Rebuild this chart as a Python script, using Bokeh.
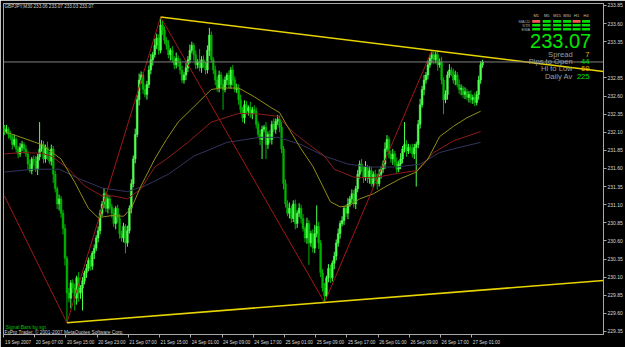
from bokeh.plotting import figure
from bokeh.models import (Range1d, LinearAxis, FixedTicker, Label, Span,
                          ColumnDataSource, NumeralTickFormatter)
from bokeh.embed import file_html
from bokeh.resources import INLINE

# ---------------- data ----------------
symbol_line = "GBPJPY,M30  233.06 233.07 233.03 233.07"

first_open = 232.16
closes = [
    232.11, 232.14, 232.07, 232.03, 231.93, 232.00, 231.87, 231.80, 231.89, 231.93, 231.87,
    231.80, 231.66, 231.57, 231.73, 231.70, 231.59, 231.76,
    231.87, 231.93, 231.73, 231.89, 231.80, 231.70, 231.87,
    231.52, 231.32, 231.11, 231.18, 230.98, 230.77,
    230.36, 229.88, 229.81, 230.02,
    229.95, 229.81, 230.09, 229.88, 229.95, 230.05,
    230.16, 230.22, 230.33, 230.25, 230.43, 230.50, 230.64, 230.74,
    230.98, 231.11, 231.25, 231.05, 231.18, 231.07,
    230.98, 230.84, 231.05, 230.91, 230.70, 230.64, 230.80, 230.57, 230.74,
    231.05, 231.39, 231.73, 232.07,
    232.55, 232.82, 232.89, 232.69,
    232.62, 232.76, 232.96, 233.10,
    233.17, 233.30, 233.40, 233.23, 233.58,
    233.51, 233.37, 233.30,
    233.17, 233.23, 233.10, 233.03, 233.12, 233.07,
    232.96, 232.82, 232.89, 232.99, 233.10,
    233.23, 233.30, 233.17, 233.03,
    233.07, 232.99, 233.10, 233.03, 232.96,
    233.23, 233.44, 233.10,
    232.96, 232.82, 232.71, 232.89, 232.76, 232.69, 232.82,
    232.89, 232.76, 232.96, 232.82, 232.69, 232.71,
    232.55, 232.41, 232.30, 232.48, 232.39,
    232.44, 232.35, 232.41, 232.39,
    232.21, 232.07, 232.00, 232.14,
    232.17, 231.93, 232.07, 232.00, 232.21, 232.14, 232.25,
    232.28, 232.17,
    231.87, 231.39, 231.11, 230.98,
    231.05, 230.91, 231.11, 230.84, 230.98, 231.05, 230.91,
    230.77, 230.64, 230.84, 230.57, 230.70, 230.50,
    230.70, 230.80, 230.57,
    230.16, 229.95, 229.84, 230.09,
    230.22, 230.09, 230.29, 230.39,
    230.57, 230.70, 230.84, 230.88,
    231.05, 230.98, 231.11,
    231.18, 231.25, 231.11, 231.32,
    231.52, 231.66, 231.59, 231.48,
    231.62, 231.46, 231.57, 231.39, 231.52,
    231.48, 231.39, 231.52, 231.59, 231.66,
    231.87, 232.00, 231.80,
    231.73, 231.80, 231.69,
    231.59, 231.66, 231.73,
    231.87, 231.93, 231.84, 231.89,
    231.87, 231.80, 231.89, 231.93,
    232.21, 232.48,
    232.69, 232.82, 232.89,
    233.03, 233.12, 233.17,
    233.10, 233.17, 233.03, 233.07,
    232.82, 232.55, 232.62, 232.89,
    232.96, 232.93, 232.82, 232.89, 232.76,
    232.69, 232.71, 232.62, 232.66, 232.58,
    232.62, 232.55, 232.58, 232.51, 232.62,
    232.82, 233.03, 233.07,
]
# wick lengths above / below the body, in pips
upper_wick_pips = [
    4, 6, 3, 5, 4, 7, 3, 4, 6, 5,
    3, 5, 4, 6, 3, 5, 7, 4, 37, 6,
    5, 4, 8, 3, 6, 4, 5, 3, 6, 4,
    5, 6, 3, 7, 4, 5, 6, 3, 8, 4,
    5, 3, 6, 4, 7, 3, 5, 4, 6, 5,
    4, 8, 3, 6, 5, 4, 7, 3, 5, 6,
    4, 5, 3, 7, 4, 6, 5, 8, 6, 9,
    5, 4, 7, 5, 6, 8, 4, 9, 6, 5,
    11, 6, 5, 4, 7, 3, 6, 5, 8, 4,
    5, 6, 4, 7, 5, 8, 5, 3, 6, 4,
    18, 5, 6, 4, 7, 10, 5, 4, 6, 5,
    6, 4, 8, 5, 3, 6, 4, 7, 5, 6,
    5, 7, 4, 6, 5, 3, 8, 4, 6, 5,
    4, 6, 5, 3, 7, 4, 6, 5, 8, 4,
    6, 5, 7, 4, 6, 5, 8, 4, 5, 6,
    4, 7, 5, 6, 3, 8, 5, 4, 6, 12,
    29, 6, 4, 5, 7, 3, 6, 5, 4, 6,
    5, 7, 4, 6, 3, 5, 8, 4, 6, 5,
    4, 6, 5, 7, 4, 8, 3, 6, 5, 4,
    6, 5, 7, 4, 5, 9, 6, 4, 5, 7,
    4, 6, 5, 8, 4, 31, 6, 5, 4, 7,
    5, 4, 6, 8, 5, 7, 4, 6, 5, 6,
    4, 4, 6, 5, 7, 4, 6, 5, 8, 4,
    5, 6, 4, 7, 5, 3, 6, 4, 5, 6,
    4, 7, 5, 6, 5, 3,
]
lower_wick_pips = [
    5, 3, 6, 4, 7, 3, 5, 6, 4, 5,
    6, 4, 7, 3, 5, 6, 4, 8, 5, 4,
    6, 5, 8, 4, 6, 12, 5, 7, 9, 6,
    8, 10, 41, 6, 14, 7, 17, 9, 12, 8,
    31, 5, 7, 4, 6, 5, 8, 4, 6, 5,
    4, 6, 5, 7, 4, 6, 5, 8, 6, 7,
    5, 6, 14, 5, 4, 7, 5, 6, 4, 8,
    5, 6, 4, 7, 5, 6, 8, 4, 5, 6,
    4, 7, 5, 6, 5, 8, 4, 6, 5, 7,
    6, 4, 5, 7, 6, 5, 4, 8, 6, 5,
    5, 7, 4, 6, 5, 8, 4, 6, 7, 5,
    6, 5, 28, 4, 7, 5, 6, 8, 4, 5,
    7, 5, 6, 8, 4, 6, 5, 7, 4, 6,
    5, 8, 27, 4, 20, 6, 5, 7, 4, 6,
    5, 7, 6, 8, 5, 4, 7, 6, 5, 8,
    6, 5, 7, 4, 6, 8, 30, 5, 6, 7,
    5, 8, 6, 5, 9, 4, 6, 7, 5, 8,
    6, 5, 7, 4, 6, 5, 8, 4, 6, 5,
    7, 5, 6, 4, 8, 5, 6, 7, 4, 6,
    5, 8, 4, 6, 5, 7, 4, 6, 5, 8,
    6, 5, 4, 7, 6, 5, 8, 4, 6, 5,
    7, 54, 5, 6, 4, 8, 5, 6, 4, 7,
    6, 5, 8, 4, 6, 20, 5, 7, 4, 6,
    5, 7, 4, 6, 8, 5, 6, 4, 7, 5,
    6, 5, 4, 7, 5, 4,
]

# moving averages (bar index, value)
fast_ma_bars = [0, 19, 29, 36, 43, 48, 55, 61, 65, 70, 77, 83, 89, 97, 106, 111, 120, 128, 136, 141,
                145, 152, 158, 163, 167, 172, 177, 182, 189, 196, 203, 211, 217, 223, 230, 237, 244]
fast_ma = [232.11, 231.93, 231.73, 231.41, 231.05, 230.92, 230.95, 230.94, 231.05, 231.36, 231.73,
           232.00, 232.24, 232.45, 232.69, 232.71, 232.71, 232.59, 232.45, 232.37, 232.18, 231.87,
           231.63, 231.36, 231.14, 231.07, 231.09, 231.18, 231.25, 231.36, 231.46, 231.55, 231.73,
           232.04, 232.18, 232.30, 232.39]
mid_ma_bars = [0, 9, 19, 24, 33, 41, 50, 56, 63, 70, 77, 83, 94, 106, 120, 131, 140, 148, 157, 164,
               169, 179, 189, 199, 211, 220, 230, 244]
mid_ma = [231.80, 231.82, 231.81, 231.77, 231.59, 231.36, 231.22, 231.22, 231.18, 231.32, 231.62,
          231.73, 231.96, 232.24, 232.36, 232.35, 232.32, 232.10, 231.91, 231.77, 231.59, 231.48,
          231.47, 231.52, 231.57, 231.82, 231.98, 232.11]
slow_ma_bars = [0, 15, 28, 38, 50, 63, 72, 84, 97, 114, 131, 140, 152, 164, 176, 187, 201, 213, 223, 233, 244]
slow_ma = [231.55, 231.59, 231.59, 231.46, 231.33, 231.28, 231.36, 231.52, 231.77, 231.96, 232.03,
           232.03, 231.93, 231.77, 231.66, 231.62, 231.62, 231.66, 231.82, 231.89, 231.96]

# zigzag pivots
zigzag_bars = [0, 32, 80, 164, 219]
zigzag_prices = [231.22, 229.47, 233.69, 229.75, 233.23]

# trend lines through two pivots each
upper_trend = [(80, 233.69), (219, 233.23)]
lower_trend = [(32, 229.47), (164, 229.75)]

current_price = 233.07

price_ticks = [233.85, 233.60, 233.35, 232.85, 232.60, 232.35, 232.10, 231.85, 231.60,
               231.35, 231.10, 230.85, 230.60, 230.35, 230.10, 229.85, 229.60, 229.35]
time_tick_bars = [0, 16, 32, 48, 64, 80, 96, 112, 128, 144, 160, 176, 192, 208, 224, 240]
time_labels = ["19 Sep 2007", "20 Sep 07:00", "20 Sep 15:00", "20 Sep 23:00", "21 Sep 07:00",
               "21 Sep 15:00", "24 Sep 01:00", "24 Sep 09:00", "24 Sep 17:00", "25 Sep 01:00",
               "25 Sep 09:00", "25 Sep 17:00", "26 Sep 01:00", "26 Sep 09:00", "26 Sep 17:00",
               "27 Sep 01:00"]

timeframes = ["M1", "M5", "M15", "M30", "H1", "H4"]
signal_rows = ["MACD", "STR", "EMA"]
macd_signals = ["down", "up", "up", "up", "down", "up"]
str_signals = ["up", "up", "up", "up", "up", "up"]
ema_signals = ["up", "up", "up", "up", "up", "up"]

stat_names = ["Spread", "Pips to Open", "Hi to Low", "Daily Av"]
stat_values = ["7", "44", "69", "225"]
stat_colors = ["#f0b000", "#00e000", "#f0b000", "#00e000"]

# ---------------- layout helpers ----------------
W, H = 625, 347
FRAME_L, FRAME_T, FRAME_R, FRAME_B = 3, 3, 605, 337
BAR_PX = 1.958
PX_PER_PRICE = 73.1
X_START = -0.5
X_END = X_START + (FRAME_R - FRAME_L) / BAR_PX
Y_TOP = 233.877
Y_BOT = Y_TOP - (FRAME_B - FRAME_T) / PX_PER_PRICE


def sx(px):
    return X_START + (px - FRAME_L) / BAR_PX


def sy(py):
    return Y_TOP - (py - FRAME_T) / PX_PER_PRICE


FONT = "Liberation Sans"

p = figure(width=W, height=H, output_backend="svg", toolbar_location=None,
           x_range=Range1d(X_START, X_END), y_range=Range1d(Y_BOT, Y_TOP),
           x_axis_location=None, y_axis_location=None,
           min_border_left=FRAME_L, min_border_top=FRAME_T,
           min_border_right=W - FRAME_R, min_border_bottom=H - FRAME_B,
           background_fill_color="black", border_fill_color="black",
           outline_line_color="#a8a8a8")
p.xgrid.visible = False
p.ygrid.visible = False

# right price axis
yax = LinearAxis(ticker=FixedTicker(ticks=price_ticks),
                 formatter=NumeralTickFormatter(format="0.00"),
                 major_tick_out=3, major_tick_in=0, minor_tick_line_color=None,
                 major_tick_line_color="#a8a8a8", axis_line_color="#a8a8a8",
                 major_label_text_color="#d8d8d8", major_label_text_font_size="5px",
                 major_label_text_font=FONT, major_label_standoff=1)
p.add_layout(yax, "right")

# bottom time axis: labels sit just right of their (minor) tick marks
lab_pos = [b + 7 for b in time_tick_bars]
xlab_ax = LinearAxis(ticker=FixedTicker(ticks=lab_pos, minor_ticks=[b - 0.5 for b in time_tick_bars]),
                     major_label_overrides={pos: t for pos, t in zip(lab_pos, time_labels)},
                     major_tick_out=0, major_tick_in=0, major_tick_line_color=None,
                     minor_tick_out=3, minor_tick_in=0, minor_tick_line_color="#a8a8a8",
                     axis_line_color=None,
                     major_label_standoff=2, major_label_text_font_size="4.6px",
                     major_label_text_font=FONT, major_label_text_color="#d8d8d8")
p.add_layout(xlab_ax, "below")

# ---------------- candles ----------------
n = len(closes)
opens = [first_open] + closes[:-1]
highs = [max(o, c) + u / 100 for o, c, u in zip(opens, closes, upper_wick_pips)]
lows = [min(o, c) - d / 100 for o, c, d in zip(opens, closes, lower_wick_pips)]
cols = ["#50ff50" if c >= o else "#00b400" for o, c in zip(opens, closes)]
src = ColumnDataSource(dict(i=list(range(n)), o=opens, c=closes, h=highs, l=lows,
                            top=[max(o, c) for o, c in zip(opens, closes)],
                            bot=[min(o, c) for o, c in zip(opens, closes)], col=cols))
p.segment(x0="i", y0="l", x1="i", y1="h", source=src, line_color="col", line_width=1)
p.vbar(x="i", width=0.9, top="top", bottom="bot", source=src, fill_color="col",
       line_color="col", line_width=0.5)

# moving averages
p.line(slow_ma_bars, slow_ma, line_color="#34345e", line_width=1)
p.line(mid_ma_bars, mid_ma, line_color="#8e1c1c", line_width=1)
p.line(fast_ma_bars, fast_ma, line_color="#8f8f16", line_width=1)

# zigzag
p.line(zigzag_bars, zigzag_prices, line_color="#a01818", line_width=1)


# trend lines extended to the right edge
def extend(pts):
    (b1, v1), (b2, v2) = pts
    slope = (v2 - v1) / (b2 - b1)
    return [b1, X_END], [v1, v1 + slope * (X_END - b1)]


for pts in (upper_trend, lower_trend):
    xs, ys = extend(pts)
    p.line(xs, ys, line_color="#e8d400", line_width=1.6)

# current price line and its highlighted axis label
p.add_layout(Span(location=current_price, dimension="width", line_color="#808080", line_width=1))
p.add_layout(Label(x=sx(FRAME_R + 2), y=current_price, text=f"{current_price:.2f}",
                   text_font=FONT, text_font_size="5px", text_color="black",
                   text_baseline="middle", text_align="left",
                   background_fill_color="white"))

# symbol line
p.add_layout(Label(x=sx(4), y=sy(4), text=symbol_line, text_font=FONT, text_font_size="4.6px",
                   text_color="#d0d0d0", text_baseline="top", text_align="left"))

# bottom-left texts
p.add_layout(Label(x=sx(5), y=sy(329), text="Signal Bars by sgt", text_font=FONT,
                   text_font_size="5px", text_color="#00c000", text_baseline="middle"))
p.add_layout(Label(x=sx(4), y=sy(334.5), text="FxPro Trader, \u00a9 2001-2007 MetaQuotes Software Corp.",
                   text_font=FONT, text_font_size="4.8px", text_color="#d0d0d0",
                   text_baseline="middle"))

# signal panel
col_px = [537.5, 548, 558.5, 568.5, 578, 587.5]
row_px = [21, 25, 29]
for tf, cx in zip(timeframes, col_px):
    p.add_layout(Label(x=sx(cx), y=sy(15), text=tf, text_font=FONT, text_font_size="4px",
                       text_color="#c0c0c0", text_align="center", text_baseline="middle"))
cell_x, cell_y, cell_c = [], [], []
for name, ry, sigs in zip(signal_rows, row_px, [macd_signals, str_signals, ema_signals]):
    p.add_layout(Label(x=sx(531.5), y=sy(ry), text=name, text_font=FONT, text_font_size="4px",
                       text_color="#a8a8a8", text_align="right", text_baseline="middle"))
    for cx, s in zip(col_px, sigs):
        cell_x.append(sx(cx))
        cell_y.append(sy(ry))
        cell_c.append("#00e000" if s == "up" else "#f05a50")
p.rect(x=cell_x, y=cell_y, width=8, height=2.6, width_units="screen", height_units="screen",
       fill_color=cell_c, line_color=None)

p.add_layout(Label(x=sx(562), y=sy(40.5), text=f"{closes[-1]:.2f}", text_font=FONT,
                   text_font_size="20px", text_color="#00e600", text_align="center",
                   text_baseline="middle"))
for name, val, vc, ry in zip(stat_names, stat_values, stat_colors, [54, 61.5, 69, 77]):
    p.add_layout(Label(x=sx(574), y=sy(ry), text=name, text_font=FONT, text_font_size="7.6px",
                       text_color="#9c9c9c", text_align="right", text_baseline="middle"))
    p.add_layout(Label(x=sx(591), y=sy(ry), text=val, text_font=FONT, text_font_size="7.6px",
                       text_color=vc, text_align="right", text_baseline="middle"))

open("out.html", "w").write(file_html(p, INLINE))
